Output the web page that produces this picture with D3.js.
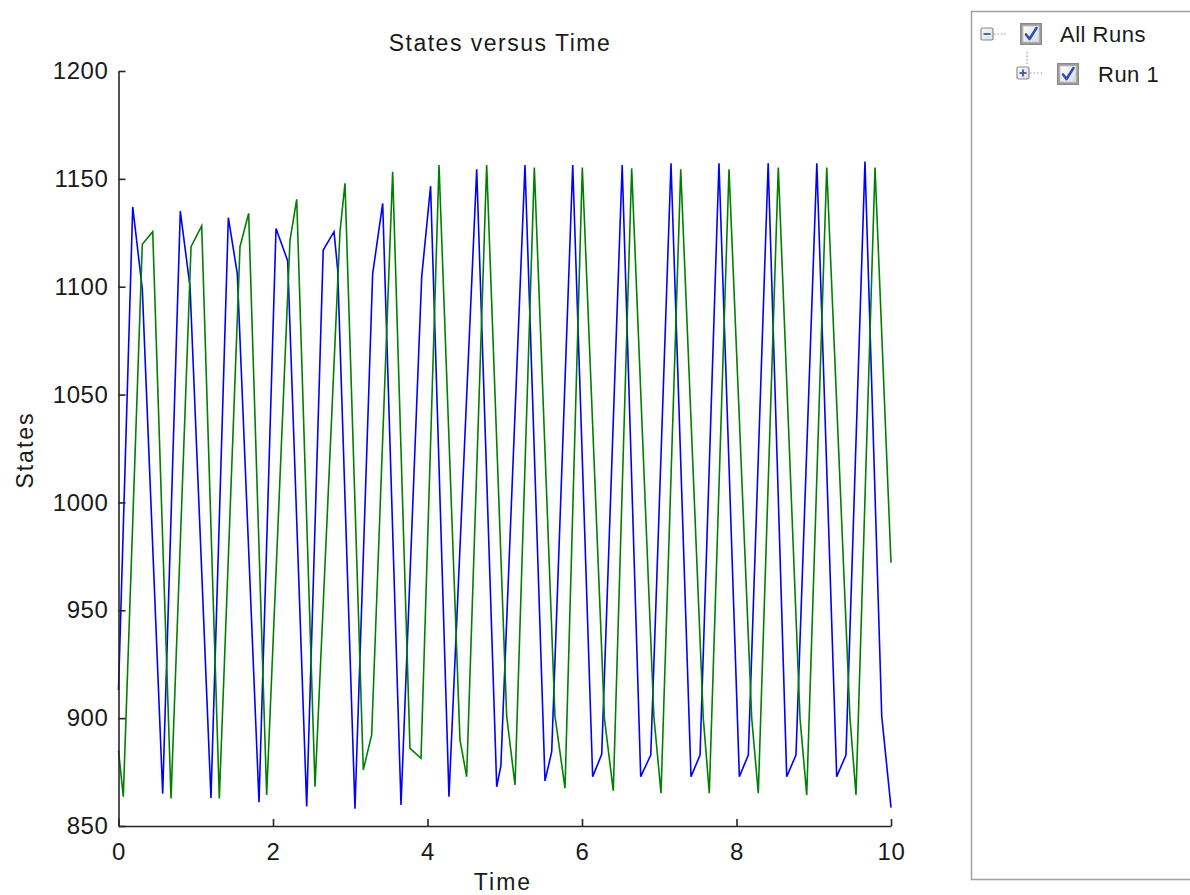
<!DOCTYPE html>
<html><head><meta charset="utf-8">
<script src="https://cdn.jsdelivr.net/npm/d3@7"></script>
<style>
html,body{margin:0;padding:0;background:#fff;}
svg{display:block;}
text{font-family:"Liberation Sans",Arial,sans-serif;fill:#1a1a1a;}
</style></head>
<body><svg id="chart" width="1190" height="895"></svg>
<script>
// ---- data ----
const xTicks = [0, 2, 4, 6, 8, 10];
const yTicks = [850, 900, 950, 1000, 1050, 1100, 1150, 1200];
const blueT = [0, 0.184, 0.308, 0.572, 0.800, 0.926, 1.197, 1.422, 1.538, 1.819, 2.039, 2.19, 2.436, 2.65, 2.79, 2.837, 3.061, 3.29, 3.42, 3.657, 3.925, 4.04, 4.278, 4.637, 4.896, 4.95, 5.262, 5.521, 5.608, 5.88, 6.138, 6.255, 6.52, 6.76, 6.89, 7.152, 7.411, 7.528, 7.773, 8.037, 8.153, 8.41, 8.65, 8.77, 9.04, 9.297, 9.417, 9.663, 9.88, 10];
const blueV = [913, 1137, 1099, 865, 1135, 1100, 863, 1132, 1106, 861, 1127, 1112, 859, 1117, 1125.5, 1108, 858, 1106, 1138.6, 859.7, 1104.7, 1146.6, 863.6, 1154.4, 868.2, 878, 1156.4, 870.9, 884.5, 1156.4, 872.9, 883.2, 1156.4, 872.9, 882.9, 1157.2, 872.9, 882.9, 1157.2, 872.9, 882.9, 1157.2, 872.9, 882.9, 1157.2, 872.9, 882.9, 1158, 901, 858.5];
const greenT = [0, 0.062, 0.308, 0.443, 0.68, 0.939, 1.077, 1.305, 1.573, 1.638, 1.685, 1.918, 2.22, 2.307, 2.544, 2.867, 2.932, 3.169, 3.277, 3.549, 3.773, 3.916, 4.149, 4.42, 4.507, 4.766, 5.025, 5.133, 5.383, 5.65, 5.78, 6.004, 6.29, 6.405, 6.643, 6.93, 7.023, 7.278, 7.57, 7.648, 7.903, 8.197, 8.282, 8.541, 8.822, 8.909, 9.168, 9.469, 9.547, 9.793, 10];
const greenV = [885, 863.6, 1119.7, 1125.5, 862.8, 1118.6, 1128.2, 862.8, 1118.6, 1127.6, 1134, 864.4, 1121.5, 1140.5, 868.2, 1125.5, 1147.9, 876, 892.2, 1153.3, 886, 881.4, 1156.4, 890, 872.9, 1156.4, 901, 869, 1155.3, 901, 867.5, 1155.3, 900, 866.3, 1154.9, 901, 865.2, 1154.4, 900, 865.2, 1154.4, 900, 865.2, 1155.3, 900, 864.4, 1155.3, 900, 864.4, 1155.3, 972];
const titleText = "States versus Time";
const xLabel = "Time";
const yLabel = "States";
const treeItems = ["All Runs", "Run 1"];

// ---- layout ----
const svg = d3.select("#chart");
const L = 118.5, R = 891, T = 71, B = 826;
const x = d3.scaleLinear().domain([0, 10]).range([L, R]);
const y = d3.scaleLinear().domain([850, 1200]).range([B, T]);

const series = [
  {color: "#0000ff", data: d3.zip(blueT, blueV)},
  {color: "#008000", data: d3.zip(greenT, greenV)}
];
const line = d3.line().x(d => x(d[0])).y(d => y(d[1]));
svg.append("g").selectAll("path").data(series).join("path")
  .attr("d", d => line(d.data))
  .attr("fill", "none")
  .attr("stroke", d => d.color)
  .attr("stroke-width", 1.6)
  .attr("stroke-linejoin", "miter");

// axes (MATLAB style: inward ticks, no box)
const gx = svg.append("g").attr("transform", `translate(0,${B})`)
  .call(d3.axisBottom(x).tickValues(xTicks).tickFormat(d3.format("d")).tickSizeInner(-7).tickSizeOuter(0).tickPadding(17));
const gy = svg.append("g").attr("transform", `translate(${L},0)`)
  .call(d3.axisLeft(y).tickValues(yTicks).tickFormat(d3.format("d")).tickSizeInner(-7).tickSizeOuter(0).tickPadding(10));
[gx, gy].forEach(g => {
  g.select(".domain").attr("stroke", "#262626").attr("stroke-width", 1.6);
  g.selectAll(".tick line").attr("stroke", "#262626").attr("stroke-width", 1.6);
  g.selectAll(".tick text").attr("font-size", 24).attr("fill", "#1a1a1a")
    .attr("letter-spacing", 0.6)
    .attr("font-family", "Liberation Sans, Arial, sans-serif");
});
gx.selectAll(".tick text").attr("dy", "0.71em");

svg.append("text").attr("x", 500).attr("y", 51).attr("text-anchor", "middle")
  .attr("font-size", 23).attr("letter-spacing", 1.5).text(titleText);
svg.append("text").attr("x", 503).attr("y", 890).attr("text-anchor", "middle")
  .attr("font-size", 23).attr("letter-spacing", 2).text(xLabel);
svg.append("text").attr("transform", "translate(33,450) rotate(-90)").attr("text-anchor", "middle")
  .attr("font-size", 23).attr("letter-spacing", 2).text(yLabel);

// ---- run tree panel ----
const panel = svg.append("g");
panel.append("rect").attr("x", 971.5).attr("y", 11.5).attr("width", 240).attr("height", 868)
  .attr("fill", "#fff").attr("stroke", "#a0a0a0").attr("stroke-width", 1.5);

const defs = svg.append("defs");
const grad = defs.append("linearGradient").attr("id", "boxg").attr("x1", 0).attr("y1", 0).attr("x2", 1).attr("y2", 1);
grad.append("stop").attr("offset", "0").attr("stop-color", "#fdfdfd");
grad.append("stop").attr("offset", "1").attr("stop-color", "#d8dce4");

function expander(cx, cy, plus) {
  const g = panel.append("g");
  g.append("rect").attr("x", cx - 6).attr("y", cy - 6).attr("width", 12).attr("height", 12)
    .attr("rx", 1.5).attr("fill", "url(#boxg)").attr("stroke", "#8c8c8c").attr("stroke-width", 1.2);
  g.append("line").attr("x1", cx - 3.5).attr("x2", cx + 3.5).attr("y1", cy).attr("y2", cy)
    .attr("stroke", "#3c5aa0").attr("stroke-width", 1.8);
  if (plus) g.append("line").attr("x1", cx).attr("x2", cx).attr("y1", cy - 3.5).attr("y2", cy + 3.5)
    .attr("stroke", "#3c5aa0").attr("stroke-width", 1.8);
}
function checkbox(cx, cy) {
  const g = panel.append("g");
  g.append("rect").attr("x", cx - 10.5).attr("y", cy - 10.5).attr("width", 21).attr("height", 21)
    .attr("fill", "#9a9a9a").attr("stroke", "#8a8a8a").attr("stroke-width", 1);
  g.append("rect").attr("x", cx - 8).attr("y", cy - 8).attr("width", 16).attr("height", 16)
    .attr("fill", "url(#boxg)").attr("stroke", "#c8c8c8").attr("stroke-width", 1);
  g.append("path").attr("d", `M${cx - 5},${cy + 0.5} L${cx - 1.5},${cy + 5} L${cx + 5.5},${cy - 6}`)
    .attr("fill", "none").attr("stroke", "#2d4fb5").attr("stroke-width", 2.6)
    .attr("stroke-linejoin", "round").attr("stroke-linecap", "round");
}
function dots(x1, y1, x2, y2) {
  panel.append("line").attr("x1", x1).attr("y1", y1).attr("x2", x2).attr("y2", y2)
    .attr("stroke", "#9a9a9a").attr("stroke-width", 1.2).attr("stroke-dasharray", "1.5,2");
}
// row 1
expander(987, 34, false);
dots(994, 34, 1006, 34);
checkbox(1031, 34);
panel.append("text").attr("x", 1060).attr("y", 42).attr("font-size", 22).attr("letter-spacing", 0.5).text(treeItems[0]);
// row 2
dots(1027, 52, 1027, 66);
expander(1023, 73, true);
dots(1030, 73, 1042, 73);
checkbox(1068, 74);
panel.append("text").attr("x", 1098).attr("y", 82).attr("font-size", 22).attr("letter-spacing", 0.5).text(treeItems[1]);
</script></body></html>
